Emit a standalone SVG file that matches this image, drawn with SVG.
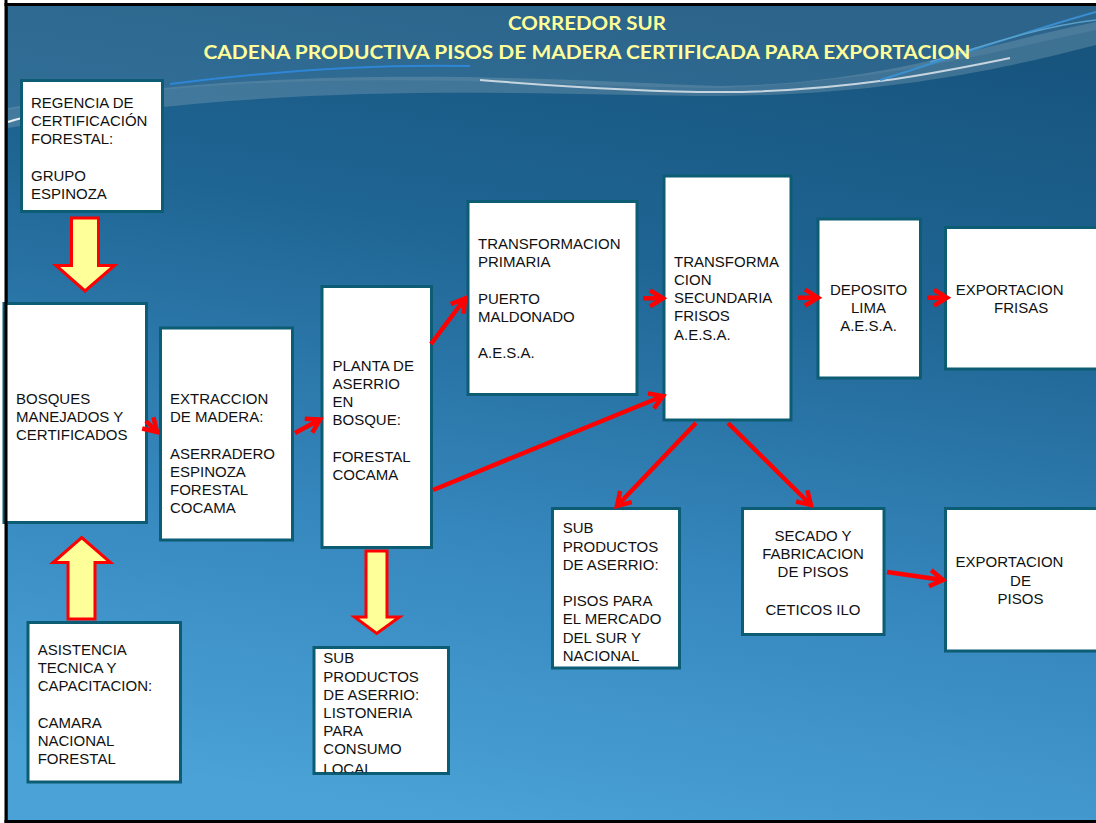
<svg xmlns="http://www.w3.org/2000/svg" width="1096" height="823" viewBox="0 0 1096 823">
<defs>
<style>
.box{fill:#ffffff;stroke:#0c5c74;stroke-width:3}
.t{font-family:"Liberation Sans",Arial,sans-serif;font-size:15px;fill:#111111}
.c{text-anchor:middle}
.ttl{font-family:Lato,"Open Sans",sans-serif;font-weight:700;font-size:19px;fill:#ffff99;text-anchor:middle}
.ra{fill:none;stroke:#ff0000;stroke-width:4.5;marker-end:url(#ah)}
.ya{fill:#ffff99;stroke:#ff0000;stroke-width:3;stroke-linejoin:miter}
</style>
<linearGradient id="bg" x1="0.62" y1="0" x2="0.4" y2="1">
<stop offset="0" stop-color="#17557f"/>
<stop offset="0.3" stop-color="#1f6593"/>
<stop offset="0.65" stop-color="#3586bc"/>
<stop offset="1" stop-color="#4aa2d6"/>
</linearGradient>
<marker id="ah" viewBox="0 0 20 20" markerWidth="20" markerHeight="20" refX="17" refY="10" orient="auto" markerUnits="userSpaceOnUse" overflow="visible">
<path d="M4,2 L17,10 L4,18" fill="none" stroke="#ff0000" stroke-width="4.5"/>
</marker>
<clipPath id="clipList"><rect x="314" y="647" width="135" height="125.5"/></clipPath>
</defs>

<g id="background">
<rect x="0" y="0" width="1096" height="823" fill="#ffffff"/>
<rect x="5" y="3" width="1091" height="820" fill="#000000"/>
<rect x="7.5" y="6" width="1088.5" height="814" fill="url(#bg)"/>
<path d="M8,6 L1096,6 L1096,30 C1000,50 900,80 720,88 C550,88 300,60 8,110 Z" fill="#6a93ae" opacity="0.25"/>
<path d="M8,108 C300,60 550,80 720,86 C880,84 980,45 1096,22 L1096,45 C1000,70 880,95 720,96 C550,96 300,78 8,128 Z" fill="#7a9db2" opacity="0.4"/>
<path d="M480,80 C580,88 650,92 720,92 C850,92 950,70 1010,58" fill="none" stroke="#e8eef2" stroke-width="2" opacity="0.8"/>
<path d="M170,84 C280,70 380,64 470,66" fill="none" stroke="#2f86d6" stroke-width="2"/>
<path d="M880,80 C960,55 1030,30 1096,12" fill="none" stroke="#3a8fd0" stroke-width="2"/>
<path d="M930,62 C1000,40 1050,25 1096,20" fill="none" stroke="#5aa0c8" stroke-width="1.5"/>
<path d="M8,122 C20,118 30,116 40,115" fill="none" stroke="#e8eef2" stroke-width="2"/>
</g>

<g id="title">
<text class="ttl" x="587" y="29.5" textLength="158" lengthAdjust="spacingAndGlyphs">CORREDOR SUR</text>
<text class="ttl" x="587" y="59.3" textLength="767" lengthAdjust="spacingAndGlyphs">CADENA PRODUCTIVA PISOS DE MADERA CERTIFICADA PARA EXPORTACION</text>
</g>

<g id="node-regencia">
<rect class="box" x="21.5" y="80.5" width="141" height="131"/>
<text class="t"><tspan x="31" y="108">REGENCIA DE</tspan><tspan x="31" y="126.2">CERTIFICACIÓN</tspan><tspan x="31" y="144.4">FORESTAL:</tspan><tspan x="31" y="180.8">GRUPO</tspan><tspan x="31" y="199">ESPINOZA</tspan></text>
</g>

<g id="node-bosques">
<rect class="box" x="4" y="303.5" width="142.5" height="219"/>
<text class="t"><tspan x="16" y="403.5">BOSQUES</tspan><tspan x="16" y="421.7">MANEJADOS Y</tspan><tspan x="16" y="439.9">CERTIFICADOS</tspan></text>
</g>

<g id="node-extraccion">
<rect class="box" x="160.5" y="328" width="132" height="212"/>
<text class="t"><tspan x="170" y="404">EXTRACCION</tspan><tspan x="170" y="422.2">DE MADERA:</tspan><tspan x="170" y="458.6">ASERRADERO</tspan><tspan x="170" y="476.8">ESPINOZA</tspan><tspan x="170" y="495">FORESTAL</tspan><tspan x="170" y="513.2">COCAMA</tspan></text>
</g>

<g id="node-planta">
<rect class="box" x="322" y="286.5" width="109.5" height="261"/>
<text class="t"><tspan x="332.5" y="370.7">PLANTA DE</tspan><tspan x="332.5" y="388.9">ASERRIO</tspan><tspan x="332.5" y="407.1">EN</tspan><tspan x="332.5" y="425.3">BOSQUE:</tspan><tspan x="332.5" y="461.7">FORESTAL</tspan><tspan x="332.5" y="479.9">COCAMA</tspan></text>
</g>

<g id="node-transformacion-primaria">
<rect class="box" x="468" y="201.5" width="169" height="193"/>
<text class="t"><tspan x="478" y="249">TRANSFORMACION</tspan><tspan x="478" y="267.2">PRIMARIA</tspan><tspan x="478" y="303.6">PUERTO</tspan><tspan x="478" y="321.8">MALDONADO</tspan><tspan x="478" y="358.2">A.E.S.A.</tspan></text>
</g>

<g id="node-transformacion-secundaria">
<rect class="box" x="664" y="176" width="127" height="244"/>
<text class="t"><tspan x="674" y="266.7">TRANSFORMA</tspan><tspan x="674" y="284.9">CION</tspan><tspan x="674" y="303.1">SECUNDARIA</tspan><tspan x="674" y="321.3">FRISOS</tspan><tspan x="674" y="339.5">A.E.S.A.</tspan></text>
</g>

<g id="node-deposito">
<rect class="box" x="818" y="219" width="102.5" height="159"/>
<text class="t c"><tspan x="868.5" y="295">DEPOSITO</tspan><tspan x="868.5" y="313.2">LIMA</tspan><tspan x="868.5" y="331.4">A.E.S.A.</tspan></text>
</g>

<g id="node-exportacion-frisas">
<rect class="box" x="945.5" y="227.5" width="160" height="141.5"/>
<text class="t"><tspan x="955.7" y="295">EXPORTACION</tspan><tspan x="994" y="313.2">FRISAS</tspan></text>
</g>

<g id="node-subproductos-pisos">
<rect class="box" x="552.5" y="508.5" width="127" height="159.5"/>
<text class="t"><tspan x="562.7" y="533.3">SUB</tspan><tspan x="562.7" y="551.5">PRODUCTOS</tspan><tspan x="562.7" y="569.7">DE ASERRIO:</tspan><tspan x="562.7" y="606.1">PISOS PARA</tspan><tspan x="562.7" y="624.3">EL MERCADO</tspan><tspan x="562.7" y="642.5">DEL SUR Y</tspan><tspan x="562.7" y="660.7">NACIONAL</tspan></text>
</g>

<g id="node-secado">
<rect class="box" x="742.5" y="508.5" width="141.5" height="126"/>
<text class="t c"><tspan x="813" y="541">SECADO Y</tspan><tspan x="813" y="559.2">FABRICACION</tspan><tspan x="813" y="577.4">DE PISOS</tspan><tspan x="813" y="614.5">CETICOS ILO</tspan></text>
</g>

<g id="node-exportacion-pisos">
<rect class="box" x="945.5" y="508.5" width="160" height="142.5"/>
<text class="t"><tspan x="955.6" y="567.3">EXPORTACION</tspan><tspan x="1020.5" y="585.5" text-anchor="middle">DE</tspan><tspan x="1020.5" y="603.7" text-anchor="middle">PISOS</tspan></text>
</g>

<g id="node-asistencia">
<rect class="box" x="28" y="622.5" width="152.5" height="159.5"/>
<text class="t"><tspan x="37.7" y="655">ASISTENCIA</tspan><tspan x="37.7" y="673.2">TECNICA Y</tspan><tspan x="37.7" y="691.4">CAPACITACION:</tspan><tspan x="37.7" y="727.8">CAMARA</tspan><tspan x="37.7" y="746">NACIONAL</tspan><tspan x="37.7" y="764.2">FORESTAL</tspan></text>
</g>

<g id="node-subproductos-listoneria">
<rect class="box" x="314" y="647.5" width="134.5" height="126"/>
<text class="t" clip-path="url(#clipList)"><tspan x="323.3" y="663.3">SUB</tspan><tspan x="323.3" y="681.5">PRODUCTOS</tspan><tspan x="323.3" y="699.7">DE ASERRIO:</tspan><tspan x="323.3" y="717.9">LISTONERIA</tspan><tspan x="323.3" y="736.1">PARA</tspan><tspan x="323.3" y="754.3">CONSUMO</tspan><tspan x="323.3" y="774">LOCAL</tspan></text>
</g>

<g id="connectors">
<polygon class="ya" points="71.5,218 98.5,218 98.5,265.5 114.5,265.5 85,291 56,265.5 71.5,265.5"/>
<polygon class="ya" points="68,619 95,619 95,562.5 110.5,562.5 81.7,537.5 53,562.5 68,562.5"/>
<polygon class="ya" points="366,551 387,551 387,617 399.5,617 376.7,633.5 354.5,617 366,617"/>
<line class="ra" x1="146" y1="421" x2="157" y2="432"/>
<line class="ra" x1="295" y1="433" x2="320" y2="419.5"/>
<line class="ra" x1="431" y1="344" x2="465" y2="298.5"/>
<line class="ra" x1="643" y1="298.3" x2="663" y2="298.3"/>
<line class="ra" x1="433" y1="490" x2="663" y2="396"/>
<line class="ra" x1="798" y1="297.7" x2="818" y2="297.7"/>
<line class="ra" x1="927" y1="297.7" x2="947" y2="297.7"/>
<line class="ra" x1="696" y1="423" x2="617" y2="506"/>
<line class="ra" x1="728" y1="423" x2="811" y2="505"/>
<line class="ra" x1="887" y1="572" x2="943" y2="580"/>
</g>

<g id="frame">
<rect x="4.5" y="0" width="3" height="823" fill="#000000"/>
<rect x="4.5" y="3" width="1091.5" height="3" fill="#000000"/>
<rect x="4.5" y="820" width="1091.5" height="3" fill="#000000"/>
</g>
</svg>
